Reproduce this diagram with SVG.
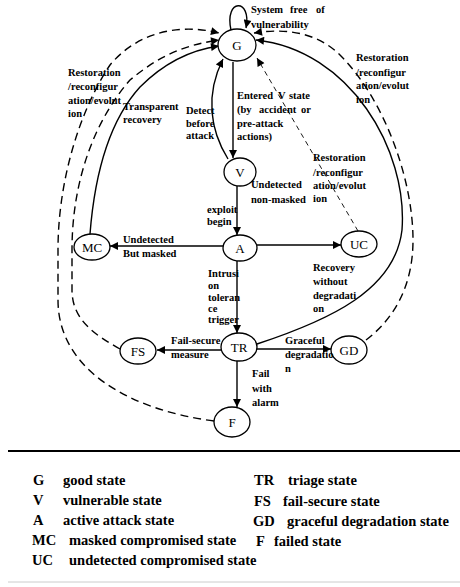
<svg xmlns="http://www.w3.org/2000/svg" width="460" height="587" viewBox="0 0 460 587">
  <defs>
    <marker id="arrow" viewBox="0 0 10 10" refX="10" refY="5" markerUnits="userSpaceOnUse" markerWidth="10" markerHeight="8" orient="auto">
      <path d="M0,0 L10,5 L0,10 z" fill="#000"/>
    </marker>
    <style>
      .node ellipse { fill: #fff; stroke: #000; stroke-width: 1.3; }
      .node text { font-family: "Liberation Serif", "Times New Roman", serif; font-size: 13px; text-anchor: middle; fill: #000; }
      .edge { fill: none; stroke: #000; stroke-width: 1.4; }
      .dash { stroke-dasharray: 8 5; }
      .thin { stroke-width: 0.9; stroke-dasharray: 5 4; }
      .arr { marker-end: url(#arrow); }
      .lbl { font-family: "Liberation Serif", "Times New Roman", serif; font-size: 10.5px; font-weight: bold; fill: #000; }
      .leg { font-family: "Liberation Serif", "Times New Roman", serif; font-size: 14.5px; font-weight: bold; fill: #000; }
    </style>
  </defs>

  <rect width="460" height="587" fill="#fff"/>

  <!-- transitions -->
  <g id="connectors">
    <!-- self loop on G -->
    <path class="edge arr" d="M231,30 C224,-2 252,-2 246,28"/>
    <!-- G to V -->
    <path class="edge arr" d="M233,62 L233,158"/>
    <!-- V to A -->
    <path class="edge arr" d="M237,186 L237,235"/>
    <!-- A to TR -->
    <path class="edge arr" d="M237,261 L237,333"/>
    <!-- TR to F -->
    <path class="edge arr" d="M237,361 L237,407"/>
    <!-- A to MC -->
    <path class="edge arr" d="M223,246 L110,246"/>
    <!-- A to UC -->
    <path class="edge arr" d="M257,245 L341,245"/>
    <!-- TR to FS -->
    <path class="edge arr" d="M221,350 L157,350"/>
    <!-- TR to GD -->
    <path class="edge arr" d="M257,349 L331,349"/>
    <!-- V back to G: detect before attack -->
    <path class="edge arr" d="M228,159 C210,130 205,95 223,59"/>
    <!-- MC to G: transparent recovery -->
    <path class="edge arr" d="M90,234 C95,170 110,120 140,87 C165,62 190,50 219,46"/>
    <!-- FS to G: restoration -->
    <path class="edge dash arr" d="M120,349 C95,335 72,320 72,290 L72,250 C72,180 95,120 130,80 C160,55 185,45 219,40"/>
    <!-- F to G: restoration -->
    <path class="edge dash arr" d="M214,421 C130,410 58,370 58,300 L58,250 C58,180 80,110 110,65 C135,35 175,22 219,33"/>
    <!-- TR to G: recovery without degradation -->
    <path class="edge arr" d="M257,344 C330,320 395,290 402,230 C408,150 350,50 256,40"/>
    <!-- GD to G: restoration -->
    <path class="edge dash arr" d="M366,340 C395,318 413,285 413,240 C413,180 385,100 340,55 C320,35 290,27 254,33"/>
    <!-- UC to G: restoration -->
    <path class="edge thin arr" d="M358,231 L257,58"/>
  </g>

  <!-- states -->
  <g id="node-G" class="node"><ellipse cx="237" cy="45" rx="19" ry="16"/><text x="237" y="50">G</text></g>
  <g id="node-V" class="node"><ellipse cx="240" cy="172" rx="16" ry="14"/><text x="240" y="177">V</text></g>
  <g id="node-A" class="node"><ellipse cx="240" cy="248" rx="17" ry="13"/><text x="240" y="253">A</text></g>
  <g id="node-MC" class="node"><ellipse cx="92" cy="247" rx="18" ry="13"/><text x="92" y="252">MC</text></g>
  <g id="node-UC" class="node"><ellipse cx="359" cy="244" rx="18" ry="13"/><text x="359" y="249">UC</text></g>
  <g id="node-TR" class="node"><ellipse cx="239" cy="347" rx="18" ry="14"/><text x="239" y="352">TR</text></g>
  <g id="node-FS" class="node"><ellipse cx="138" cy="351" rx="18" ry="13"/><text x="138" y="356">FS</text></g>
  <g id="node-GD" class="node"><ellipse cx="349" cy="350" rx="18" ry="14"/><text x="349" y="355">GD</text></g>
  <g id="node-F" class="node"><ellipse cx="232" cy="422" rx="18" ry="15"/><text x="232" y="427">F</text></g>

  <!-- transition labels -->
  <g id="labels">
    <text class="lbl" y="13"><tspan x="251">System</tspan><tspan x="290">free</tspan><tspan x="316">of</tspan></text>
    <text class="lbl" x="251" y="28">vulnerability</text>

    <text class="lbl" x="68" y="76">Restoration</text>
    <text class="lbl" x="68" y="90">/reconfigur</text>
    <text class="lbl" x="68" y="104">ation/evolut</text>
    <text class="lbl" x="68" y="117">ion</text>

    <text class="lbl" x="123" y="110">Transparent</text>
    <text class="lbl" x="123" y="123">recovery</text>

    <text class="lbl" x="186" y="114">Detect</text>
    <text class="lbl" x="186" y="127">before</text>
    <text class="lbl" x="186" y="139">attack</text>

    <text class="lbl" y="99"><tspan x="237">Entered</tspan><tspan x="278">V</tspan><tspan x="289">state</tspan></text>
    <text class="lbl" y="113"><tspan x="237">(by</tspan><tspan x="259">accident</tspan><tspan x="301">or</tspan></text>
    <text class="lbl" x="237" y="127">pre-attack</text>
    <text class="lbl" x="237" y="140">actions)</text>

    <text class="lbl" x="356" y="61">Restoration</text>
    <text class="lbl" x="356" y="76">/reconfigur</text>
    <text class="lbl" x="356" y="89">ation/evolut</text>
    <text class="lbl" x="356" y="103">ion</text>

    <text class="lbl" x="313" y="161">Restoration</text>
    <text class="lbl" x="313" y="176">/reconfigur</text>
    <text class="lbl" x="313" y="189">ation/evolut</text>
    <text class="lbl" x="313" y="202">ion</text>

    <text class="lbl" x="251" y="188">Undetected</text>
    <text class="lbl" x="251" y="203">non-masked</text>

    <text class="lbl" x="207" y="213">exploit</text>
    <text class="lbl" x="207" y="225">begin</text>

    <text class="lbl" x="123" y="243">Undetected</text>
    <text class="lbl" x="123" y="257">But masked</text>

    <text class="lbl" x="208" y="277">Intrusi</text>
    <text class="lbl" x="208" y="289">on</text>
    <text class="lbl" x="208" y="301">toleran</text>
    <text class="lbl" x="208" y="312">ce</text>
    <text class="lbl" x="208" y="323">trigger</text>

    <text class="lbl" x="313" y="271">Recovery</text>
    <text class="lbl" x="313" y="285">without</text>
    <text class="lbl" x="313" y="299">degradati</text>
    <text class="lbl" x="313" y="312">on</text>

    <text class="lbl" x="171" y="344">Fail-secure</text>
    <text class="lbl" x="171" y="358">measure</text>

    <text class="lbl" x="285" y="344">Graceful</text>
    <text class="lbl" x="285" y="358">degradatio</text>
    <text class="lbl" x="285" y="372">n</text>

    <text class="lbl" x="252" y="377">Fail</text>
    <text class="lbl" x="252" y="392">with</text>
    <text class="lbl" x="252" y="406">alarm</text>
  </g>

  <!-- legend -->
  <g id="legend">
    <line x1="8" y1="451" x2="460" y2="451" stroke="#000" stroke-width="2"/>
    <text class="leg" x="33" y="485">G</text>
    <text class="leg" x="63" y="485">good state</text>
    <text class="leg" x="33" y="505">V</text>
    <text class="leg" x="63" y="505">vulnerable state</text>
    <text class="leg" x="33" y="525">A</text>
    <text class="leg" x="63" y="525">active attack state</text>
    <text class="leg" x="32" y="545">MC</text>
    <text class="leg" x="69" y="545">masked compromised state</text>
    <text class="leg" x="32" y="565">UC</text>
    <text class="leg" x="69" y="565">undetected compromised state</text>

    <text class="leg" x="254" y="485">TR</text>
    <text class="leg" x="288" y="485">triage state</text>
    <text class="leg" x="254" y="506">FS</text>
    <text class="leg" x="283" y="506">fail-secure state</text>
    <text class="leg" x="253" y="526">GD</text>
    <text class="leg" x="287" y="526">graceful degradation state</text>
    <text class="leg" x="256" y="546">F</text>
    <text class="leg" x="274" y="546">failed state</text>
    <line x1="8" y1="582" x2="460" y2="582" stroke="#ccc" stroke-width="1"/>
  </g>
</svg>
